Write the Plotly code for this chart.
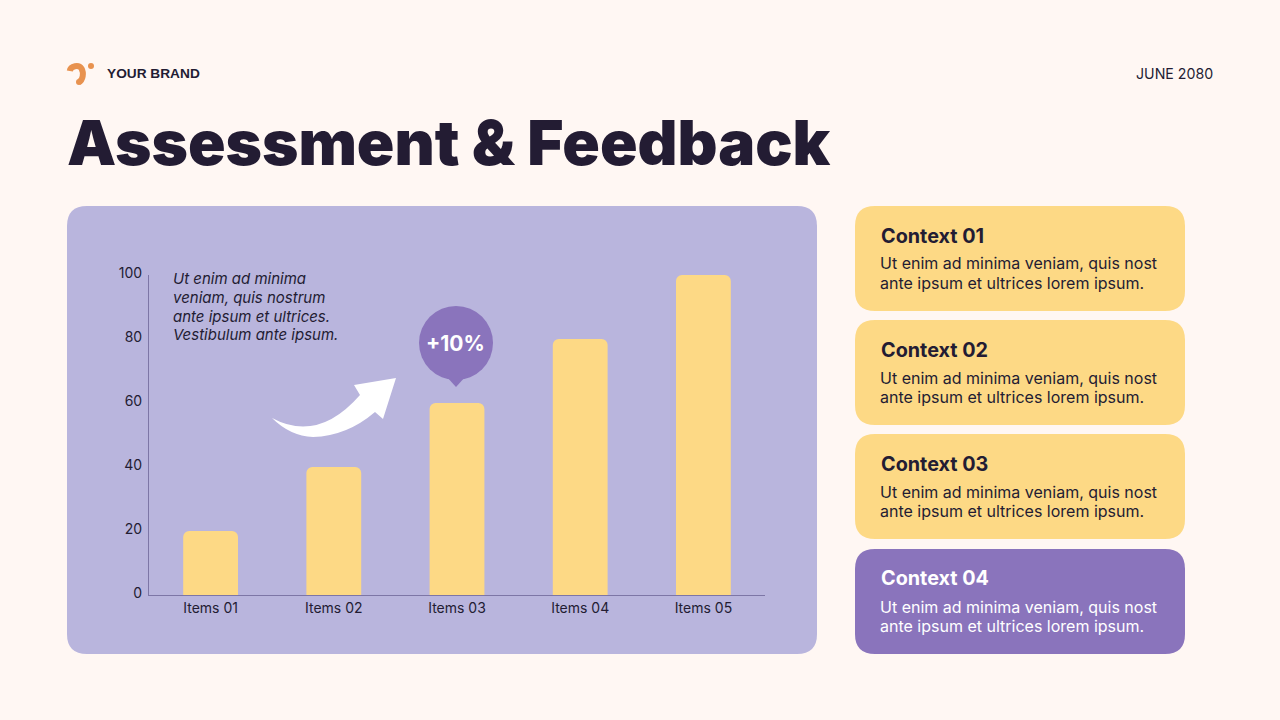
import plotly.graph_objects as go

W = 1280
H = 720

# Данные графика
categories = ["Items 01", "Items 02", "Items 03", "Items 04", "Items 05"]
values = [20, 40, 60, 80, 100]
y_ticks = [0, 20, 40, 60, 80, 100]

context_titles = ["Context 01", "Context 02", "Context 03", "Context 04"]
context_lines = ["Ut enim ad minima veniam, quis nost", "ante ipsum et ultrices lorem ipsum."]
note_lines = ["Ut enim ad minima", "veniam, quis nostrum", "ante ipsum et ultrices.", "Vestibulum ante ipsum."]

BG = "#FFF7F3"
PANEL = "#B9B5DD"
YELLOW = "#FDD985"
PURPLE = "#8A74BC"
DARK = "#231C33"
AXIS = "#7D76A6"
ORANGE = "#E8924F"
BODY_FONT = "Inter"


def px(x):
    return x / W


def py(y):
    return 1 - y / H


def pt(x, y):
    return f"{px(x):.5f},{py(y):.5f}"


# Прямоугольник со скруглёнными углами
def round_rect(x0, y0, x1, y1, r, color):
    path = (
        f"M{pt(x0 + r, y0)} L{pt(x1 - r, y0)} Q{pt(x1, y0)} {pt(x1, y0 + r)} "
        f"L{pt(x1, y1 - r)} Q{pt(x1, y1)} {pt(x1 - r, y1)} "
        f"L{pt(x0 + r, y1)} Q{pt(x0, y1)} {pt(x0, y1 - r)} "
        f"L{pt(x0, y0 + r)} Q{pt(x0, y0)} {pt(x0 + r, y0)} Z"
    )
    return dict(type="path", xref="paper", yref="paper", path=path, fillcolor=color,
                line_width=0, layer="below")


def circle(cx, cy, r, color):
    return dict(type="circle", xref="paper", yref="paper", x0=px(cx - r), x1=px(cx + r),
                y0=py(cy + r), y1=py(cy - r), fillcolor=color, line_width=0, layer="above")


def text(x, y, s, size, color=DARK, family=BODY_FONT, weight=400, anchor="left"):
    return dict(x=px(x), y=py(y), xref="paper", yref="paper", text=s, showarrow=False,
                xanchor=anchor, yanchor="middle", align=anchor,
                font=dict(family=family, size=size, color=color, weight=weight),
                borderpad=0)


shapes = [round_rect(67, 206, 817, 654, 20, PANEL)]
annotations = []

# Карточки справа
card_tops = [206, 320, 434, 549]
for i, title in enumerate(context_titles):
    top = card_tops[i]
    last = i == len(context_titles) - 1
    shapes.append(round_rect(855, top, 1185, top + 105, 20, PURPLE if last else YELLOW))
    color = "white" if last else DARK
    annotations.append(text(880, top + (29 if last else 30), title, 19.8, color, weight=700))
    annotations.append(text(879, top + 57.5, context_lines[0], 16, color))
    annotations.append(text(879, top + 76.5, context_lines[1], 16, color))

# Логотип
arc = (
    f"M{pt(69.8, 71)} C{pt(70.5, 65.5)} {pt(79, 64.5)} {pt(81.5, 68.5)} "
    f"C{pt(84, 73)} {pt(83, 80)} {pt(79, 82)}"
)
shapes.append(dict(type="path", xref="paper", yref="paper", path=arc,
                   line=dict(color=ORANGE, width=6), layer="above"))
shapes.append(circle(79, 82, 3, ORANGE))
shapes.append(circle(91, 66, 3, ORANGE))

# Стрелка
arrow = (
    f"M{pt(396, 378)} L{pt(354, 385)} L{pt(360, 395)} "
    f"Q{pt(318, 443)} {pt(272, 418)} "
    f"Q{pt(290, 436)} {pt(313, 437)} "
    f"Q{pt(347, 436)} {pt(375, 412)} "
    f"L{pt(383, 419)} Z"
)
shapes.append(dict(type="path", xref="paper", yref="paper", path=arrow,
                   fillcolor="white", line_width=0, layer="above"))

# Пузырь +10%
shapes.append(circle(456, 343, 37, PURPLE))
tail = f"M{pt(446, 376)} L{pt(456, 387)} L{pt(466, 376)} Z"
shapes.append(dict(type="path", xref="paper", yref="paper", path=tail,
                   fillcolor=PURPLE, line_width=0, layer="above"))
annotations.append(text(455.5, 343, "+10%", 21, "white", weight=700, anchor="center"))

# Шапка
annotations.append(text(106, 74, "YOUR BRAND", 13.7, DARK, "Liberation Sans", 700))
annotations.append(text(1214, 74, "JUNE 2080", 14.2, DARK, anchor="right"))
annotations.append(text(66, 143, "Assessment &amp; Feedback", 62, DARK, "Inter", 900))

# Подпись на графике
for i, line in enumerate(note_lines):
    annotations.append(text(172, 279 + i * 18.5, f"<i>{line}</i>", 15, DARK))

fig = go.Figure(
    go.Bar(x=categories, y=values, marker=dict(color=YELLOW, cornerradius=6, line_width=0),
           width=0.445, showlegend=False)
)

fig.update_layout(
    width=W,
    height=H,
    autosize=False,
    margin=dict(l=0, r=0, t=0, b=0),
    paper_bgcolor=BG,
    plot_bgcolor="rgba(0,0,0,0)",
    shapes=shapes,
    annotations=annotations,
    xaxis=dict(domain=[px(149), px(765)], automargin=False, showgrid=False, zeroline=False,
               showline=True, linecolor=AXIS, linewidth=1, ticks="",
               tickfont=dict(family=BODY_FONT, size=14, color=DARK)),
    yaxis=dict(domain=[py(595), py(275)], automargin=False, range=[0, 100], tickvals=y_ticks,
               showgrid=False, zeroline=False, showline=True, linecolor=AXIS, linewidth=1,
               ticks="", ticklen=0, ticklabelshift=-2, ticklabelstandoff=3,
               tickfont=dict(family=BODY_FONT, size=14, color=DARK)),
)

fig.write_html("out.html", config={"displayModeBar": False},
               post_script="document.body.style.margin='0';")
